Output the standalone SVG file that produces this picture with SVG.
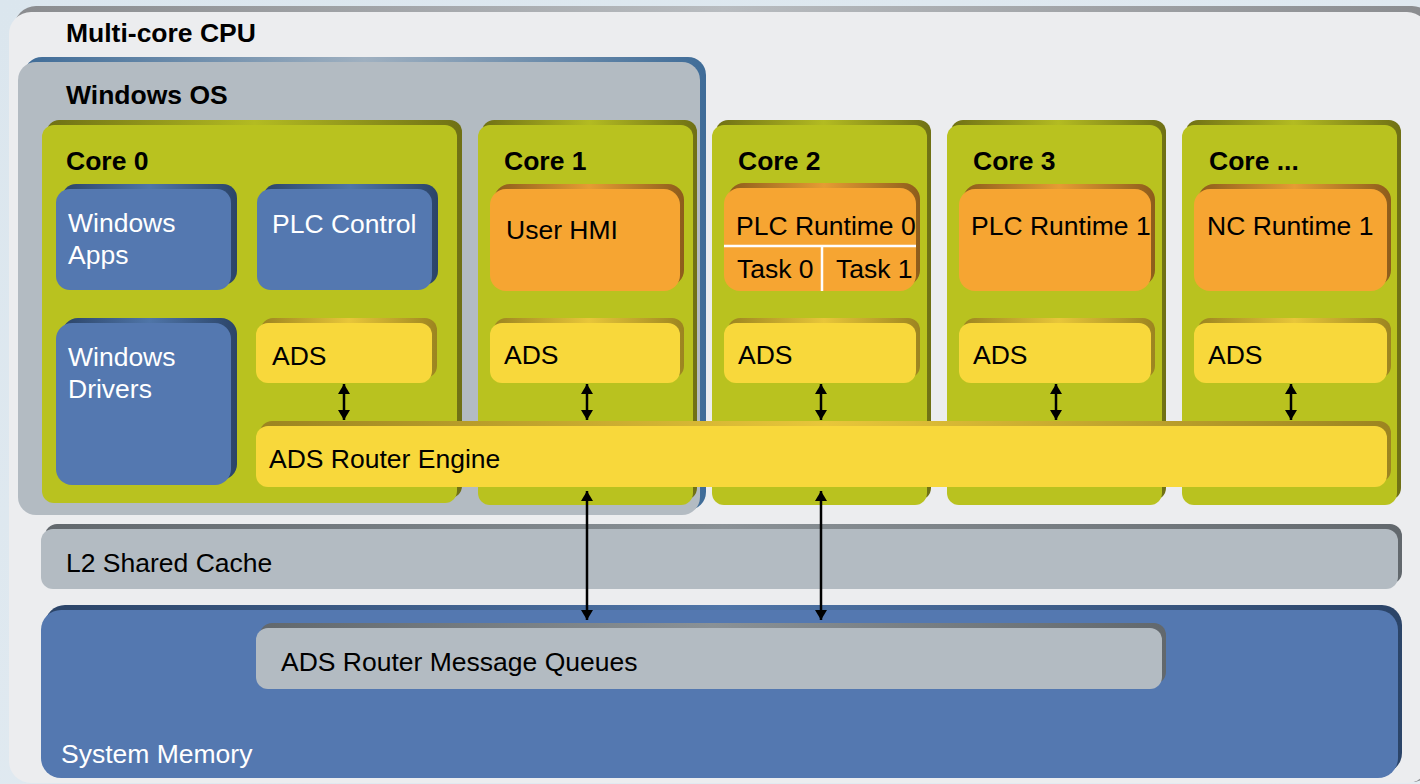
<svg xmlns="http://www.w3.org/2000/svg" width="1420" height="784" viewBox="0 0 1420 784">
  <defs>
    <linearGradient id="bg" x1="0" y1="0" x2="1" y2="1">
      <stop offset="0" stop-color="#dbe6ee"/>
      <stop offset="1" stop-color="#e4ecf2"/>
    </linearGradient>
    <linearGradient id="gOlive" x1="0" y1="0" x2="1" y2="0">
      <stop offset="0" stop-color="#6f7015"/>
      <stop offset="0.5" stop-color="#b3bb22"/>
      <stop offset="1" stop-color="#6f7015"/>
    </linearGradient>
    <linearGradient id="gBronze" x1="0" y1="0" x2="1" y2="0">
      <stop offset="0" stop-color="#8d5c1b"/>
      <stop offset="0.5" stop-color="#e69c33"/>
      <stop offset="1" stop-color="#8d5c1b"/>
    </linearGradient>
    <linearGradient id="gGold" x1="0" y1="0" x2="1" y2="0">
      <stop offset="0" stop-color="#9c8420"/>
      <stop offset="0.5" stop-color="#e8c63a"/>
      <stop offset="1" stop-color="#9c8420"/>
    </linearGradient>
    <linearGradient id="gNavy" x1="0" y1="0" x2="1" y2="0">
      <stop offset="0" stop-color="#2b4468"/>
      <stop offset="0.5" stop-color="#4f75a8"/>
      <stop offset="1" stop-color="#2b4468"/>
    </linearGradient>
    <linearGradient id="gSlate" x1="0" y1="0" x2="1" y2="0">
      <stop offset="0" stop-color="#62686d"/>
      <stop offset="0.5" stop-color="#8a9196"/>
      <stop offset="1" stop-color="#62686d"/>
    </linearGradient>
    <linearGradient id="gOsEdge" x1="0" y1="0" x2="1" y2="0">
      <stop offset="0" stop-color="#3f6c98"/>
      <stop offset="0.5" stop-color="#9fb0c0"/>
      <stop offset="1" stop-color="#3f6c98"/>
    </linearGradient>
    <linearGradient id="gCpuEdge" x1="0" y1="0" x2="1" y2="0">
      <stop offset="0" stop-color="#8a8c8f"/>
      <stop offset="0.5" stop-color="#b8bcc0"/>
      <stop offset="1" stop-color="#8a8c8f"/>
    </linearGradient>
    <marker id="tip" viewBox="0 0 10 12" refX="10" refY="6" markerWidth="10" markerHeight="12" markerUnits="userSpaceOnUse" orient="auto-start-reverse">
      <path d="M0,0 L10,6 L0,12 Z" fill="#000"/>
    </marker>
    <style>
      .lbl { font-family: "Liberation Sans", Arial, sans-serif; font-size: 26.5px; fill: #000; }
      .bold { font-weight: bold; }
      .white { fill: #fff; }
      .green { fill: #b9c21f; }
      .orange { fill: #f6a532; }
      .yellow { fill: #f8d83b; }
      .blue { fill: #5478b0; }
      .gray { fill: #b3bbc2; }
      .shOlive { fill: url(#gOlive); }
      .shBronze { fill: url(#gBronze); }
      .shGold { fill: url(#gGold); }
      .shNavy { fill: url(#gNavy); }
      .shSlate { fill: url(#gSlate); }
      .link { stroke: #000; stroke-width: 2.5; fill: none; marker-start: url(#tip); marker-end: url(#tip); }
      .split { stroke: #fff; stroke-width: 2.5; }
    </style>
  </defs>

  <rect x="0" y="0" width="1420" height="784" fill="url(#bg)"/>

  <!-- Multi-core CPU package -->
  <g id="cpu">
    <rect x="14" y="6" width="1420" height="776" rx="22" fill="url(#gCpuEdge)"/>
    <rect x="9" y="12" width="1420" height="771" rx="22" fill="#ecedef"/>
    <text class="lbl bold" x="66" y="42">Multi-core CPU</text>
  </g>

  <!-- Windows OS region -->
  <g id="windows-os">
    <rect x="24" y="57" width="682" height="453" rx="18" fill="url(#gOsEdge)"/>
    <rect x="18" y="62" width="682" height="453" rx="18" fill="#b3bbc2"/>
    <text class="lbl bold" x="66" y="104">Windows OS</text>
  </g>

  <!-- Cores -->
  <g id="core0">
    <rect class="shOlive" x="47" y="120" width="415" height="378" rx="12"/>
    <rect class="green" x="42" y="125" width="415" height="378" rx="12"/>
    <text class="lbl bold" x="66" y="170">Core 0</text>
  </g>
  <g id="core1">
    <rect class="shOlive" x="482" y="120" width="215" height="380" rx="12"/>
    <rect class="green" x="478" y="125" width="215" height="380" rx="12"/>
    <text class="lbl bold" x="504" y="170">Core 1</text>
  </g>
  <g id="core2">
    <rect class="shOlive" x="716" y="120" width="215" height="380" rx="12"/>
    <rect class="green" x="712" y="125" width="215" height="380" rx="12"/>
    <text class="lbl bold" x="738" y="170">Core 2</text>
  </g>
  <g id="core3">
    <rect class="shOlive" x="951" y="120" width="215" height="380" rx="12"/>
    <rect class="green" x="947" y="125" width="215" height="380" rx="12"/>
    <text class="lbl bold" x="973" y="170">Core 3</text>
  </g>
  <g id="core-n">
    <rect class="shOlive" x="1186" y="120" width="215" height="380" rx="12"/>
    <rect class="green" x="1182" y="125" width="215" height="380" rx="12"/>
    <text class="lbl bold" x="1209" y="170">Core ...</text>
  </g>

  <!-- Core 0 contents -->
  <g id="windows-apps">
    <rect class="shNavy" x="62" y="184" width="175" height="101" rx="14"/>
    <rect class="blue" x="56" y="189" width="175" height="101" rx="14"/>
    <text class="lbl white" x="68" y="232">Windows</text>
    <text class="lbl white" x="68" y="264">Apps</text>
  </g>
  <g id="plc-control">
    <rect class="shNavy" x="263" y="184" width="175" height="101" rx="14"/>
    <rect class="blue" x="257" y="189" width="175" height="101" rx="14"/>
    <text class="lbl white" x="272" y="233">PLC Control</text>
  </g>
  <g id="windows-drivers">
    <rect class="shNavy" x="62" y="318" width="175" height="162" rx="16"/>
    <rect class="blue" x="56" y="323" width="175" height="162" rx="16"/>
    <text class="lbl white" x="68" y="366">Windows</text>
    <text class="lbl white" x="68" y="398">Drivers</text>
  </g>

  <!-- Runtime tasks -->
  <g id="user-hmi">
    <rect class="shBronze" x="494" y="184" width="190" height="102" rx="16"/>
    <rect class="orange" x="490" y="189" width="190" height="102" rx="16"/>
    <text class="lbl" x="506" y="239">User HMI</text>
  </g>
  <g id="plc-runtime-0">
    <rect class="shBronze" x="728" y="183" width="192" height="103" rx="16"/>
    <rect class="orange" x="724" y="188" width="192" height="103" rx="16"/>
    <line class="split" x1="724" y1="246" x2="916" y2="246"/>
    <line class="split" x1="822" y1="246" x2="822" y2="291"/>
    <text class="lbl" x="736" y="235">PLC Runtime 0</text>
    <text class="lbl" x="737" y="278">Task 0</text>
    <text class="lbl" x="836" y="278">Task 1</text>
  </g>
  <g id="plc-runtime-1">
    <rect class="shBronze" x="963" y="184" width="192" height="102" rx="16"/>
    <rect class="orange" x="959" y="189" width="192" height="102" rx="16"/>
    <text class="lbl" x="971" y="235">PLC Runtime 1</text>
  </g>
  <g id="nc-runtime-1">
    <rect class="shBronze" x="1198" y="184" width="193" height="102" rx="16"/>
    <rect class="orange" x="1194" y="189" width="193" height="102" rx="16"/>
    <text class="lbl" x="1207" y="235">NC Runtime 1</text>
  </g>

  <!-- ADS endpoints -->
  <g id="ads0">
    <rect class="shGold" x="261" y="318" width="176" height="60" rx="12"/>
    <rect class="yellow" x="256" y="323" width="176" height="60" rx="12"/>
    <text class="lbl" x="272" y="365">ADS</text>
  </g>
  <g id="ads1">
    <rect class="shGold" x="494" y="318" width="190" height="60" rx="12"/>
    <rect class="yellow" x="490" y="323" width="190" height="60" rx="12"/>
    <text class="lbl" x="504" y="364">ADS</text>
  </g>
  <g id="ads2">
    <rect class="shGold" x="728" y="318" width="192" height="60" rx="12"/>
    <rect class="yellow" x="724" y="323" width="192" height="60" rx="12"/>
    <text class="lbl" x="738" y="364">ADS</text>
  </g>
  <g id="ads3">
    <rect class="shGold" x="963" y="318" width="192" height="60" rx="12"/>
    <rect class="yellow" x="959" y="323" width="192" height="60" rx="12"/>
    <text class="lbl" x="973" y="364">ADS</text>
  </g>
  <g id="ads-n">
    <rect class="shGold" x="1198" y="318" width="193" height="60" rx="12"/>
    <rect class="yellow" x="1194" y="323" width="193" height="60" rx="12"/>
    <text class="lbl" x="1208" y="364">ADS</text>
  </g>

  <!-- ADS router engine spanning all cores -->
  <g id="ads-router-engine">
    <rect class="shGold" x="260" y="421" width="1131" height="61" rx="12"/>
    <rect class="yellow" x="256" y="426" width="1131" height="61" rx="12"/>
    <text class="lbl" x="269" y="468">ADS Router Engine</text>
  </g>

  <!-- Shared cache -->
  <g id="l2-cache">
    <rect class="shSlate" x="45" y="524" width="1357" height="60" rx="12"/>
    <rect class="gray" x="41" y="529" width="1357" height="60" rx="12"/>
    <text class="lbl" x="66" y="572">L2 Shared Cache</text>
  </g>

  <!-- System memory -->
  <g id="system-memory">
    <rect class="shNavy" x="45" y="605" width="1357" height="168" rx="20"/>
    <rect class="blue" x="41" y="610" width="1357" height="168" rx="20"/>
    <text class="lbl white" x="61" y="763">System Memory</text>
  </g>
  <g id="message-queues">
    <rect class="shSlate" x="260" y="623" width="906" height="61" rx="12"/>
    <rect class="gray" x="256" y="628" width="906" height="61" rx="12"/>
    <text class="lbl" x="281" y="671">ADS Router Message Queues</text>
  </g>

  <!-- Connectors -->
  <g id="connectors">
    <line class="link" x1="344" y1="384" x2="344" y2="420"/>
    <line class="link" x1="587" y1="384" x2="587" y2="420"/>
    <line class="link" x1="821" y1="384" x2="821" y2="420"/>
    <line class="link" x1="1056" y1="384" x2="1056" y2="420"/>
    <line class="link" x1="1291" y1="384" x2="1291" y2="420"/>
    <line class="link" x1="587" y1="491" x2="587" y2="620"/>
    <line class="link" x1="821" y1="491" x2="821" y2="620"/>
  </g>
</svg>
